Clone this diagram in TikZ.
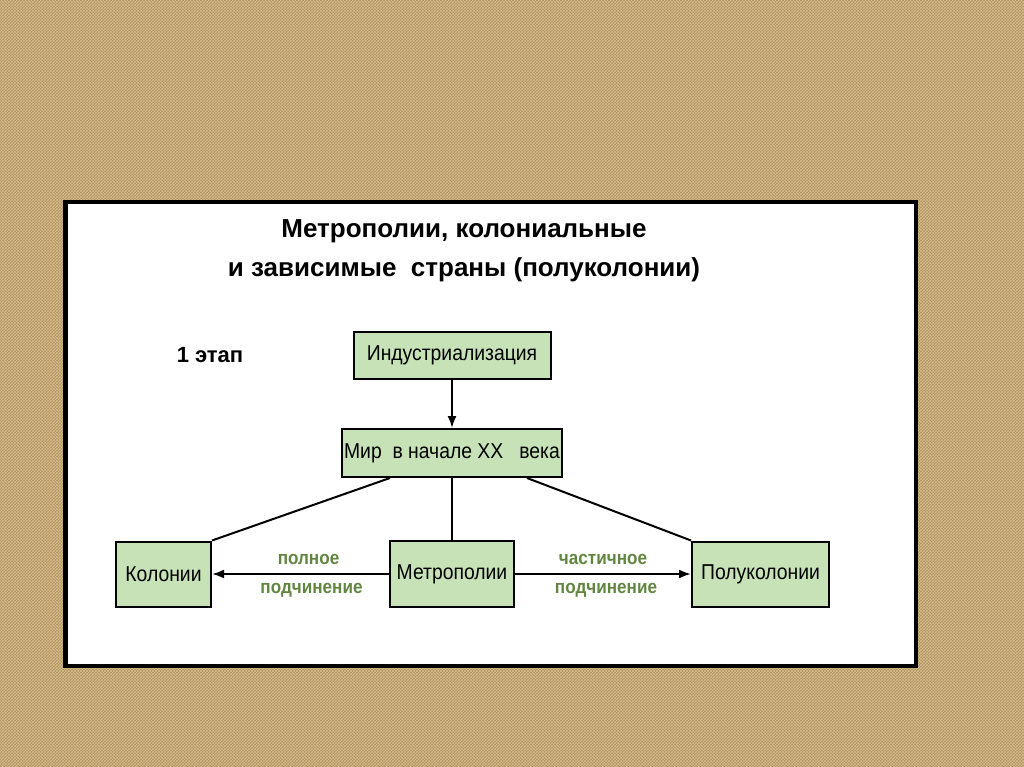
\documentclass[tikz,border=0pt]{standalone}
\usepackage{fontspec}
\setmainfont{Liberation Sans}
\newfontfamily\narrowfont[FakeStretch=0.9]{Liberation Sans}
\usetikzlibrary{positioning, arrows.meta, patterns}
\definecolor{burlap}{RGB}{176,146,96}
\definecolor{burlaplight}{RGB}{214,190,140}
\definecolor{boxgreen}{RGB}{200,226,184}
\definecolor{labelgreen}{RGB}{98,134,66}
\tikzset{
    box/.style = {
        rectangle,
        draw=black,
        line width=2pt,
        fill=boxgreen,
        inner sep=2pt,
        align=center,
        font=\narrowfont\fontsize{21.5}{26}\selectfont
    },
    sublabel/.style = {
        text=labelgreen,
        font=\narrowfont\bfseries\fontsize{19}{22}\selectfont,
        inner sep=0pt
    },
    link/.style = {line width=2pt, black},
    arrow/.style = {link, -{Latex[length=12pt, width=9pt]}}
}
\begin{document}
\begin{tikzpicture}[x=1pt, y=-1pt]

% Фон и панель
\fill[burlap] (0,0) rectangle (1024,767);
\fill[pattern=crosshatch, pattern color=burlaplight] (0,0) rectangle (1024,767);
\draw[line width=4.5pt, fill=white] (65.25,202.25) rectangle (915.75,665.75);

% Заголовок
\node[font=\bfseries\fontsize{26}{39}\selectfont, align=center] (title) at (464,251)
    {Метрополии, колониальные\\и зависимые\ \ страны (полуколонии)};
\node[font=\bfseries\fontsize{22}{26}\selectfont] (stage) at (210,355) {1 этап};

% Цепочка
\node[box, minimum width=197pt, minimum height=47pt] (ind) at (452,355.5) {Индустриализация};
\node[box, minimum width=220pt, minimum height=48pt, below=48pt of ind] (mir)
    {Мир\ \ в начале XX\ \ \ века};
\draw[arrow] (ind) -- (mir);

% Нижний ряд
\node[box, minimum width=124pt, minimum height=66pt, below=62pt of mir] (metro) {Метрополии};
\node[box, minimum width=95pt, minimum height=65pt, left=177pt of metro] (kol) {Колонии};
\node[box, minimum width=137pt, minimum height=65pt, right=176pt of metro] (polu) {Полуколонии};

\draw[link] ([xshift=-62pt]mir.south) -- (kol.north east);
\draw[link] (mir) -- (metro);
\draw[link] ([xshift=75pt]mir.south) -- (polu.north west);

\draw[arrow] (metro) -- (kol)
    node[sublabel, midway, above=8pt, xshift=8pt] {полное}
    node[sublabel, midway, below=8pt, xshift=11pt] {подчинение};
\draw[arrow] (metro) -- (polu)
    node[sublabel, midway, above=8pt] {частичное}
    node[sublabel, midway, below=8pt, xshift=3pt] {подчинение};

\end{tikzpicture}
\end{document}
